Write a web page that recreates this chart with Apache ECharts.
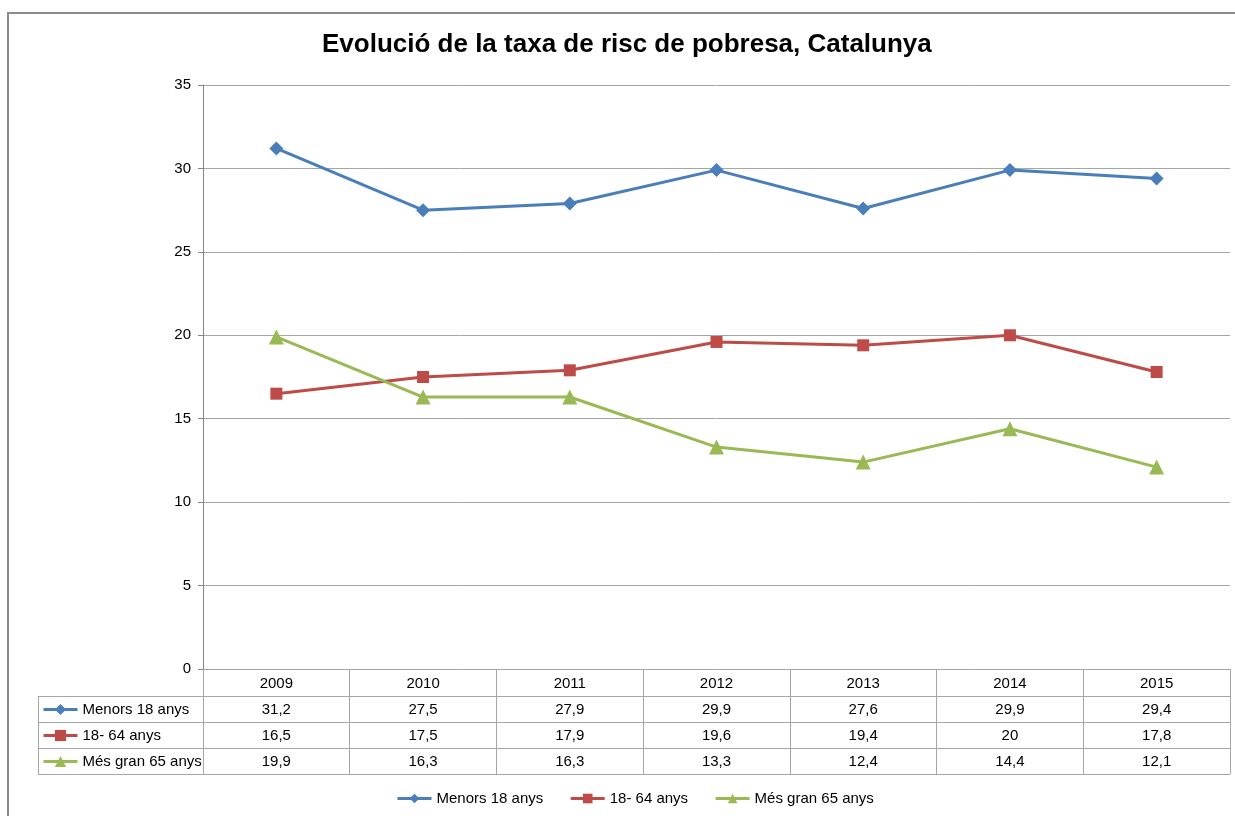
<!DOCTYPE html>
<html><head><meta charset="utf-8">
<script src="https://cdn.jsdelivr.net/npm/echarts@6/dist/echarts.min.js"></script>
<style>html,body{margin:0;padding:0;background:#fff}#c{width:1235px;height:816px}</style>
</head><body><div id="c"></div>
<script>
var title = 'Evolució de la taxa de risc de pobresa, Catalunya';
var years = ['2009','2010','2011','2012','2013','2014','2015'];
var seriesNames = ['Menors 18 anys','18- 64 anys','Més gran 65 anys'];
var menors = [31.2, 27.5, 27.9, 29.9, 27.6, 29.9, 29.4];
var adults = [16.5, 17.5, 17.9, 19.6, 19.4, 20, 17.8];
var grans = [19.9, 16.3, 16.3, 13.3, 12.4, 14.4, 12.1];
var yTicks = [0, 5, 10, 15, 20, 25, 30, 35];

var colors = ['#4a7ebb', '#be4b48', '#98b954'];
var symbols = ['diamond', 'rect', 'triangle'];
var symSizes = [14, 12, 15];
var allData = [menors, adults, grans];
var FONT = 'Liberation Sans';
var lineColor = '#a6a6a6';

var chart = echarts.init(document.getElementById('c'));

var xAxes = [{
  type: 'category', data: years, gridIndex: 0, position: 'bottom', boundaryGap: true,
  axisLine: { show: true, lineStyle: { color: lineColor, width: 1 } },
  axisTick: { show: true, length: 105, lineStyle: { color: lineColor, width: 1 } },
  axisLabel: { color: '#000', fontFamily: FONT, fontSize: 15, margin: 7 }
}];
allData.forEach(function (arr, k) {
  xAxes.push({
    type: 'category', data: years, gridIndex: 0, position: 'bottom', boundaryGap: true,
    offset: 27 + 26 * k,
    axisLine: { show: false }, axisTick: { show: false },
    axisLabel: {
      color: '#000', fontFamily: FONT, fontSize: 15, margin: 6,
      formatter: function (v, i) { return String(arr[i]).replace('.', ','); }
    }
  });
});

var series = seriesNames.map(function (n, k) {
  return {
    name: n, type: 'line', data: allData[k], xAxisIndex: 0,
    symbol: symbols[k], symbolSize: symSizes[k],
    lineStyle: { color: colors[k], width: 3 },
    itemStyle: { color: colors[k] },
    animation: false
  };
});

var graphics = [
  { type: 'rect', shape: { x: 8, y: 13, width: 1300, height: 900 }, style: { fill: 'none', stroke: '#8c8c8c', lineWidth: 2 }, silent: true }
];
[696, 722, 748, 774].forEach(function (y) {
  graphics.push({ type: 'line', shape: { x1: 38, y1: y + 0.5, x2: 1230, y2: y + 0.5 }, style: { stroke: lineColor, lineWidth: 1 } });
});
graphics.push({ type: 'line', shape: { x1: 38.5, y1: 696, x2: 38.5, y2: 774 }, style: { stroke: lineColor, lineWidth: 1 } });

chart.setOption({
  animation: false,
  title: { text: title, left: 322, top: 32, padding: 0, textStyle: { fontFamily: FONT, fontWeight: 'bold', fontSize: 26, color: '#000' } },
  grid: { left: 203, right: 5, top: 85, bottom: 147, containLabel: false },
  xAxis: xAxes,
  yAxis: {
    type: 'value', min: 0, max: 35, interval: 5,
    axisLine: { show: true, lineStyle: { color: '#868686' } },
    axisTick: { show: true, length: 5, lineStyle: { color: '#868686' } },
    splitLine: { show: true, lineStyle: { color: lineColor } },
    axisLabel: { color: '#000', fontFamily: FONT, fontSize: 15, margin: 12,
      formatter: function (v) { return yTicks.indexOf(v) >= 0 ? String(v) : ''; } }
  },
  legend: [{
    data: seriesNames, orient: 'horizontal', left: 396, top: 791, padding: 0,
    itemWidth: 34, itemHeight: 12, itemGap: 26,
    lineStyle: { width: 3 },
    textStyle: { fontFamily: FONT, fontSize: 15, color: '#000' }
  }, {
    data: seriesNames, orient: 'vertical', left: 42, top: 702, padding: 0,
    itemWidth: 34, itemHeight: 14, itemGap: 11, selectedMode: false,
    lineStyle: { width: 3 },
    textStyle: { fontFamily: FONT, fontSize: 15, color: '#000', lineHeight: 14 }
  }],
  series: series,
  graphic: graphics
});
</script>
</body></html>
